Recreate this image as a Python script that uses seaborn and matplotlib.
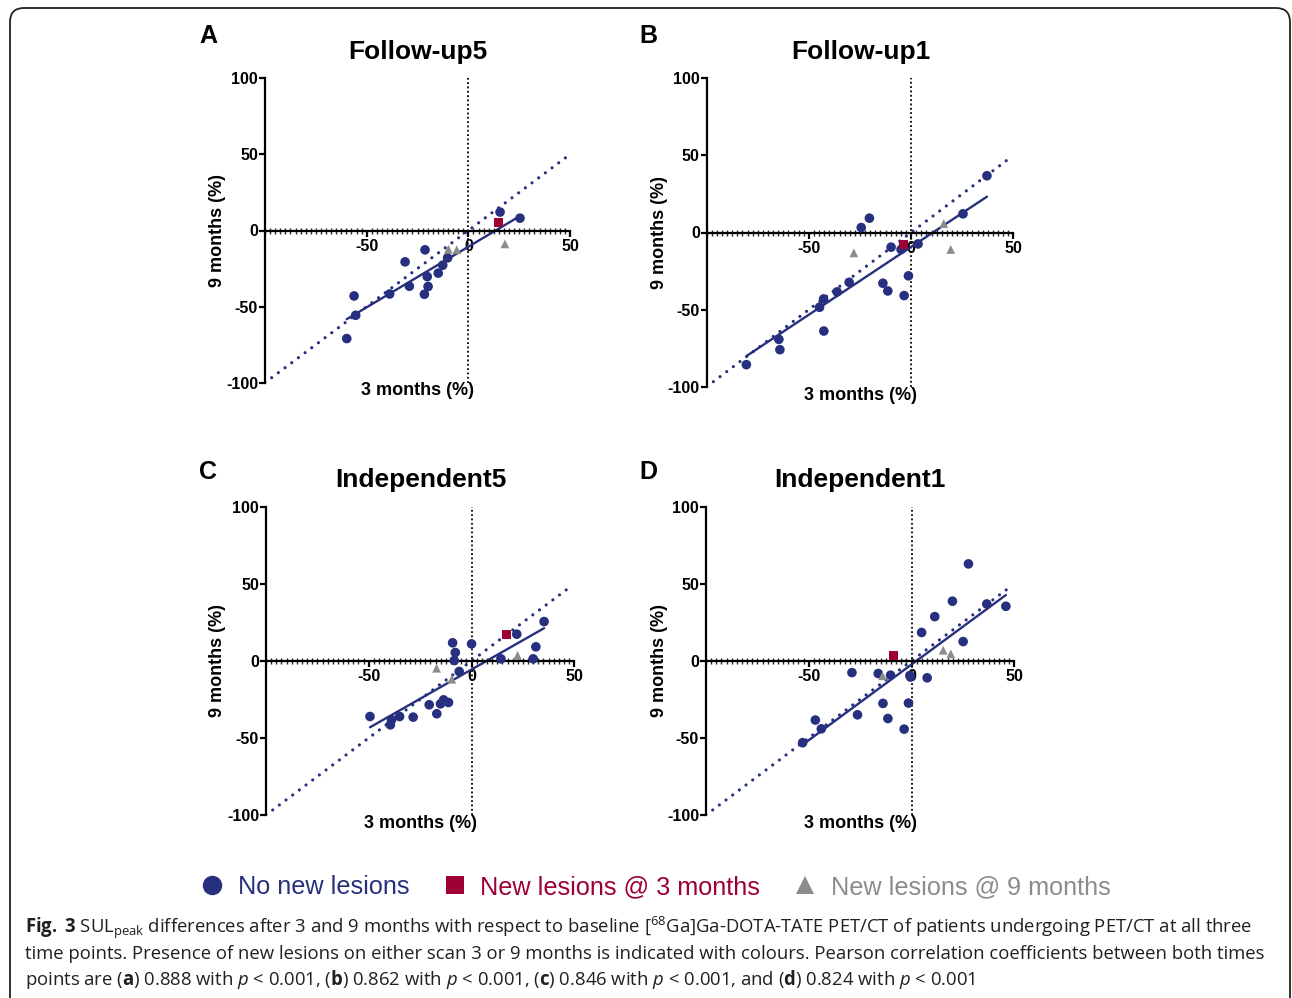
import numpy as np
import pandas as pd
import matplotlib
matplotlib.use("Agg")
import matplotlib.pyplot as plt
import matplotlib.transforms as mtransforms
from matplotlib.patches import FancyBboxPatch
from matplotlib.lines import Line2D
import seaborn as sns

# ---------------- data ----------------
groups = ["No new lesions", "New lesions @ 3 months", "New lesions @ 9 months"]
titles = ["Follow-up5", "Follow-up1", "Independent5", "Independent1"]
letters = ["A", "B", "C", "D"]

A_none_x = [15.6, 25.4, -21.3, -31.1, -10.2, -12.6, -14.8, -20.2, -19.8, -29.0, -21.6, -38.7, -56.2, -55.4, -59.8]
A_none_y = [12.1, 8.1, -12.7, -20.6, -18.0, -22.8, -28.0, -30.3, -36.8, -36.6, -41.9, -41.7, -43.0, -55.7, -71.0]
A_new3_x = [14.8]
A_new3_y = [5.3]
A_new9_x = [18.0, -9.8, -5.7]
A_new9_y = [-8.8, -12.3, -12.7]

B_none_x = [37.1, 25.4, 3.4, -20.4, -24.4, -9.8, -4.9, -1.3, -13.8, -11.4, -3.4, -30.3, -36.2, -42.8, -44.8, -42.7, -64.7, -64.2, -80.6]
B_none_y = [36.8, 12.1, -7.4, 9.3, 3.2, -9.5, -11.0, -28.1, -32.9, -37.9, -40.9, -32.3, -38.5, -43.1, -48.5, -63.9, -69.3, -76.0, -85.7]
B_new3_x = [-3.7]
B_new3_y = [-7.6]
B_new9_x = [-28.0, 16.0, 19.4]
B_new9_y = [-13.2, 5.8, -11.0]

C_none_x = [35.3, 22.0, 31.3, 30.0, 14.3, 0.0, -9.2, -7.9, -8.4, -6.0, -11.2, -13.6, -15.1, -20.6, -16.9, -28.4, -35.0, -38.9, -39.5, -49.4]
C_none_y = [25.5, 17.3, 9.1, 1.3, 1.3, 11.0, 11.7, 5.4, 0.2, -6.9, -27.0, -25.3, -27.9, -28.5, -34.3, -36.5, -36.1, -38.2, -41.5, -36.1]
C_new3_x = [17.2]
C_new3_y = [17.1]
C_new9_x = [-17.0, 22.4, -9.6]
C_new9_y = [-4.8, 3.5, -11.9]

D_none_x = [27.7, 19.9, 36.6, 45.9, 11.3, 4.9, 25.1, 7.6, -0.8, -0.5, -10.2, -16.2, -29.0, -13.9, -1.5, -11.5, -3.6, -26.3, -46.8, -43.9, -53.0]
D_none_y = [62.9, 38.7, 36.9, 35.4, 28.7, 18.4, 12.5, -11.0, -9.5, -10.5, -9.3, -8.2, -7.6, -27.6, -27.4, -37.4, -44.3, -35.0, -38.4, -44.1, -53.1]
D_new3_x = [-8.9]
D_new3_y = [3.5]
D_new9_x = [15.4, 19.1, -14.1]
D_new9_y = [6.9, 4.5, -9.7]

identity_x = [-100, 48]
x_ticks = [-50, 0, 50]
y_ticks = [-100, -50, 0, 50, 100]

panels = [
    (A_none_x, A_none_y, A_new3_x, A_new3_y, A_new9_x, A_new9_y),
    (B_none_x, B_none_y, B_new3_x, B_new3_y, B_new9_x, B_new9_y),
    (C_none_x, C_none_y, C_new3_x, C_new3_y, C_new9_x, C_new9_y),
    (D_none_x, D_none_y, D_new3_x, D_new3_y, D_new9_x, D_new9_y),
]

# ---------------- style ----------------
BLUE = "#26307E"
RED = "#9E0035"
GRAY = "#8C8C8C"
TXT = "#231F20"
palette = {groups[0]: BLUE, groups[1]: RED, groups[2]: GRAY}
markers = {groups[0]: "o", groups[1]: "s", groups[2]: "^"}
sizes = {groups[0]: 48, groups[1]: 40, groups[2]: 40}

sns.set_theme(style="white")
plt.rcParams["font.family"] = ["Liberation Sans", "DejaVu Sans"]
plt.rcParams["axes.unicode_minus"] = False
plt.rcParams["mathtext.fontset"] = "custom"
plt.rcParams["mathtext.rm"] = "Open Sans"
plt.rcParams["mathtext.it"] = "Open Sans:italic"
plt.rcParams["mathtext.bf"] = "Open Sans:bold"

W, H = 1292, 998
fig = plt.figure(figsize=(W / 100, H / 100), dpi=100)
fig.patch.set_facecolor("white")

# frame with rounded corners
frame = FancyBboxPatch((10, -20), 1280, H - 8 + 20,
                       boxstyle="round,pad=0,rounding_size=14",
                       transform=mtransforms.IdentityTransform(),
                       facecolor="none", edgecolor="#222222", lw=1.3)
fig.patches.append(frame)

boxes = [(265, 78.3, 570, 382.7), (706.7, 78.3, 1013.3, 386.7),
         (266, 506.7, 574.3, 815), (706, 506.7, 1014.3, 815)]
title_pos = [(418, 52), (861, 52), (421, 480), (860, 480)]
letter_pos = [(208, 36), (648, 36), (208, 472), (648, 472)]
ylabel_x = [218, 659, 218, 659]


def px_axes(l, t, r, b):
    return fig.add_axes([l / W, 1 - b / H, (r - l) / W, (b - t) / H])


for i, (nx, ny, rx, ry, gx, gy) in enumerate(panels):
    df = pd.DataFrame({
        "x3": nx + rx + gx,
        "y9": ny + ry + gy,
        "group": [groups[0]] * len(nx) + [groups[1]] * len(rx) + [groups[2]] * len(gx),
    })
    l, t, r, b = boxes[i]
    ax = px_axes(l, t, r, b)
    ax.set_facecolor("none")
    ax.set_xlim(-100, 50)
    ax.set_ylim(-100, 100)

    # identity line and zero line
    ax.plot(identity_x, identity_x, color=BLUE, lw=2.3,
            linestyle=(0, (0.01, 2.6)), dash_capstyle="round", zorder=2)
    ax.axvline(0, color="black", lw=1.3, linestyle=(0, (1, 1.4)), zorder=1)

    # regression line
    sns.regplot(data=df, x="x3", y="y9", scatter=False, ci=None, truncate=True,
                color=BLUE, line_kws=dict(lw=1.7, zorder=2.5), ax=ax)

    sns.scatterplot(data=df, x="x3", y="y9", hue="group", style="group", size="group",
                    palette=palette, markers=markers, sizes=sizes, linewidth=0,
                    legend=False, ax=ax, zorder=3)

    # axes styling
    for s in ["top", "right"]:
        ax.spines[s].set_visible(False)
    ax.spines["bottom"].set_position(("data", 0))
    ax.spines["bottom"].set_linewidth(1.6)
    ax.spines["left"].set_linewidth(1.6)
    ax.spines["bottom"].set_color("black")
    ax.spines["left"].set_color("black")
    ax.set_xticks(x_ticks)
    ax.set_yticks(y_ticks)
    ax.set_xticks(np.arange(-100, 51, 2.5), minor=True)
    ax.tick_params(axis="x", which="major", direction="out", length=4, width=1.6,
                   pad=2, labelsize=11.5, colors="black", bottom=True)
    ax.tick_params(axis="x", which="minor", direction="inout", length=4, width=1.0,
                   bottom=True)
    ax.tick_params(axis="y", which="major", direction="out", length=4, width=1.6,
                   pad=1, labelsize=11.5, colors="black", left=True)
    for lab in ax.get_xticklabels() + ax.get_yticklabels():
        lab.set_fontweight("bold")
    ax.set_xlabel("3 months (%)", fontsize=13, fontweight="bold", color="black")
    ax.set_ylabel("9 months (%)", fontsize=13, fontweight="bold", color="black")
    ax.xaxis.set_label_coords(0.5, -0.027)
    ax.xaxis.label.set_va("center")
    ax.yaxis.set_label_coords((ylabel_x[i] - l) / (r - l), 0.5)
    ax.yaxis.label.set_va("center")
    ax.grid(False)

    tx, ty = title_pos[i]
    fig.text(tx / W, 1 - ty / H, titles[i], fontsize=19, fontweight="bold",
             ha="center", va="center", color="black")
    lx, ly = letter_pos[i]
    fig.text(lx / W, 1 - ly / H, letters[i], fontsize=18, fontweight="bold",
             ha="center", va="center", color="black")

# legend
handles = [
    Line2D([], [], marker="o", ls="none", color=BLUE, markersize=14, markeredgewidth=0),
    Line2D([], [], marker="s", ls="none", color=RED, markersize=13, markeredgewidth=0),
    Line2D([], [], marker="^", ls="none", color=GRAY, markersize=13, markeredgewidth=0),
]
fig.legend(handles, groups, loc="center", bbox_to_anchor=(655 / W, 1 - 887 / H),
           ncol=3, frameon=False, handlelength=1.0, handletextpad=0.5,
           columnspacing=1.3, labelcolor=[BLUE, RED, GRAY],
           prop={"family": "Liberation Sans", "size": 18.2})

# caption
cap_lines = [
    r"$\mathbf{Fig.}$ $\mathbf{3}$ SUL$_{\mathrm{peak}}$ differences after 3 and 9 months with respect to baseline [$^{68}$Ga]Ga-DOTA-TATE PET/CT of patients undergoing PET/CT at all three",
    "time points. Presence of new lesions on either scan 3 or 9 months is indicated with colours. Pearson correlation coefficients between both times",
    r"points are ($\mathbf{a}$) 0.888 with $\mathit{p}$ < 0.001, ($\mathbf{b}$) 0.862 with $\mathit{p}$ < 0.001, ($\mathbf{c}$) 0.846 with $\mathit{p}$ < 0.001, and ($\mathbf{d}$) 0.824 with $\mathit{p}$ < 0.001",
]
cap_y = [933, 959, 985]
for txt, yy in zip(cap_lines, cap_y):
    fig.text(25 / W, 1 - yy / H, txt, fontsize=13.35, family="Open Sans",
             color=TXT, ha="left", va="baseline")

fig.savefig("out.png", dpi=100, facecolor="white")
